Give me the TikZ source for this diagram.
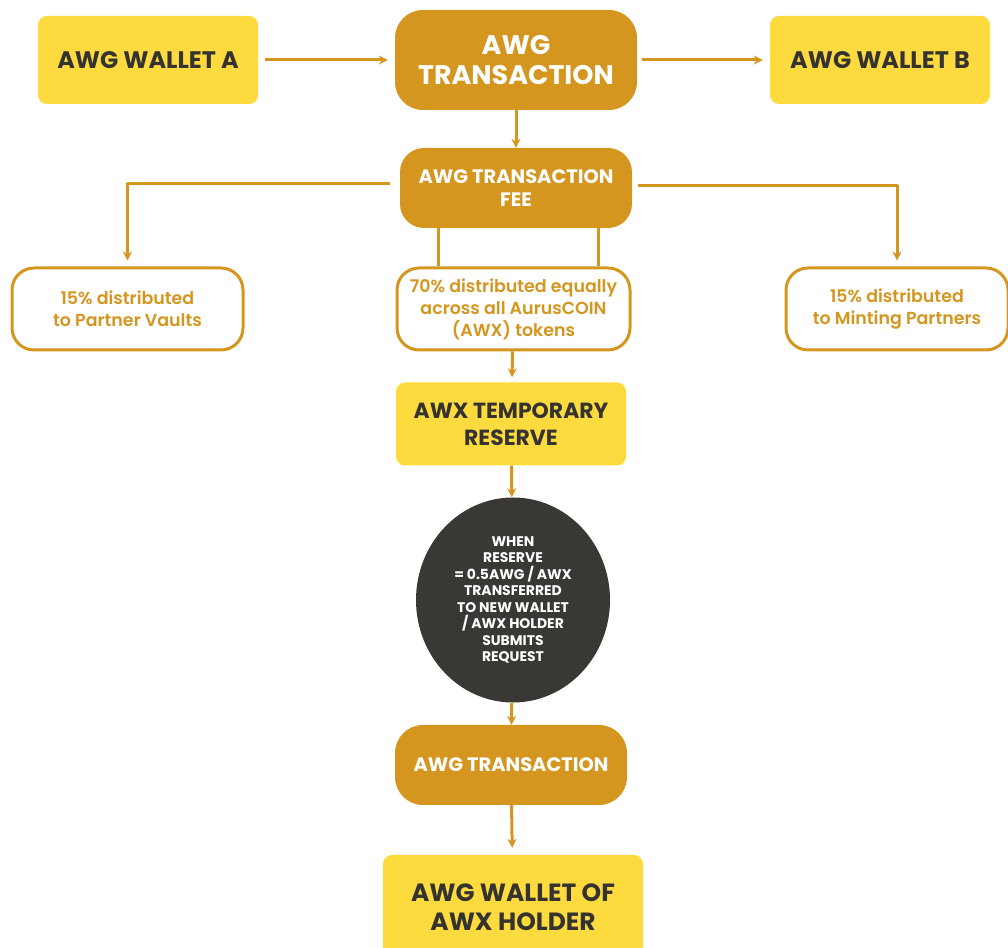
\documentclass[tikz,border=0pt]{standalone}
\usepackage{fontspec}
\setmainfont{Poppins}[BoldFont=* Bold]
\newfontfamily\semifont{Poppins SemiBold}
\usetikzlibrary{arrows.meta,shapes.geometric}
\definecolor{awgyellow}{HTML}{FDDA3E}
\definecolor{awggold}{HTML}{D4961F}
\definecolor{awgdark}{HTML}{3A3835}
\definecolor{awgtext}{HTML}{34332F}
\begin{document}
\begin{tikzpicture}[>={Stealth[length=9bp,width=9bp]},line join=bevel,
  wallet/.style={draw=none,fill=awgyellow,rounded corners=9bp,text=awgtext,align=center,font=\bfseries},
  txn/.style={draw=none,fill=awggold,rounded corners=28bp,text=white,align=center,font=\bfseries},
  share/.style={draw=awggold,line width=3bp,fill=white,rounded corners=22bp,text=awggold,align=center,font=\semifont\fontsize{17.5}{22}\selectfont},
  flow/.style={awggold,line width=3bp},
]
%%
\useasboundingbox (0bp,0bp) rectangle (1008bp,948bp);
\node (node_0) at (148.0bp,888.0bp) [wallet,minimum width=220bp,minimum height=88bp,font=\bfseries\fontsize{24}{28}\selectfont] {AWG WALLET A};
  \node (node_1) at (516.0bp,888.0bp) [txn,minimum width=242bp,minimum height=100bp,font=\bfseries\fontsize{27}{31}\selectfont] {AWG\\TRANSACTION};
  \node (node_2) at (880.0bp,888.0bp) [wallet,minimum width=220bp,minimum height=88bp,font=\bfseries\fontsize{24}{28}\selectfont] {AWG WALLET B};
  \node (node_3) at (516.0bp,760.0bp) [txn,rounded corners=24bp,minimum width=232bp,minimum height=80bp,font=\bfseries\fontsize{19.5}{23}\selectfont] {AWG TRANSACTION\\FEE};
  \node (node_4) at (127.5bp,639.0bp) [share,minimum width=231bp,minimum height=82bp] {15\% distributed\\to Partner Vaults};
  \node (node_5) at (513.5bp,639.0bp) [share,minimum width=233bp,minimum height=82bp,inner sep=2bp] {70\% distributed equally\\across all AurusCOIN\\(AWX) tokens};
  \node (node_6) at (897.0bp,639.0bp) [share,minimum width=222bp,minimum height=82bp] {15\% distributed\\to Minting Partners};
  \node (node_7) at (511.0bp,524.0bp) [wallet,minimum width=230bp,minimum height=83bp,font=\bfseries\fontsize{22}{27}\selectfont] {AWX TEMPORARY\\RESERVE};
  \node (node_8) at (513.0bp,348.0bp) [ellipse,fill=awgdark,minimum width=194bp,minimum height=205bp,inner sep=0bp,text=white,align=center,font=\bfseries\fontsize{14}{16.6}\selectfont] {WHEN\\RESERVE\\= 0.5AWG / AWX\\TRANSFERRED\\TO NEW WALLET\\/ AWX HOLDER\\SUBMITS\\REQUEST};
  \node (node_9) at (511.0bp,183.0bp) [txn,minimum width=232bp,minimum height=80bp,font=\bfseries\fontsize{19.5}{23}\selectfont] {AWG TRANSACTION};
  \node (node_10) at (513.0bp,41.0bp) [wallet,minimum width=260bp,minimum height=104bp,font=\bfseries\fontsize{25}{29}\selectfont] {AWG WALLET OF\\AWX HOLDER};
  \draw [flow,->,shorten <=7bp,shorten >=7bp] (node_0) -- (node_1);
  \draw [flow,->,shorten <=5bp,shorten >=7bp] (node_1) -- (node_2);
  \draw [flow,->] (node_1) -- (node_3);
  \draw [flow,->,shorten >=6bp] ([xshift=-10bp,yshift=4bp]node_3.west) -| (node_4.north);
  \draw [flow,->,shorten >=6bp] ([xshift=6bp,yshift=2bp]node_3.east) -| (node_6.north);
  \draw [flow] ([xshift=-78bp]node_3.south) -- ([xshift=-78bp]node_3.south |- node_5.north);
  \draw [flow] ([xshift=82bp]node_3.south) -- ([xshift=82bp]node_3.south |- node_5.north);
  \draw [flow,->,shorten >=5bp] (node_5) -- (node_7);
  \draw [flow,->] (node_7) -- (node_8);
  \draw [flow,->] (node_8) -- (node_9);
  \draw [flow,->,shorten >=7bp] (node_9) -- (node_10);
%
\end{tikzpicture}
\end{document}
